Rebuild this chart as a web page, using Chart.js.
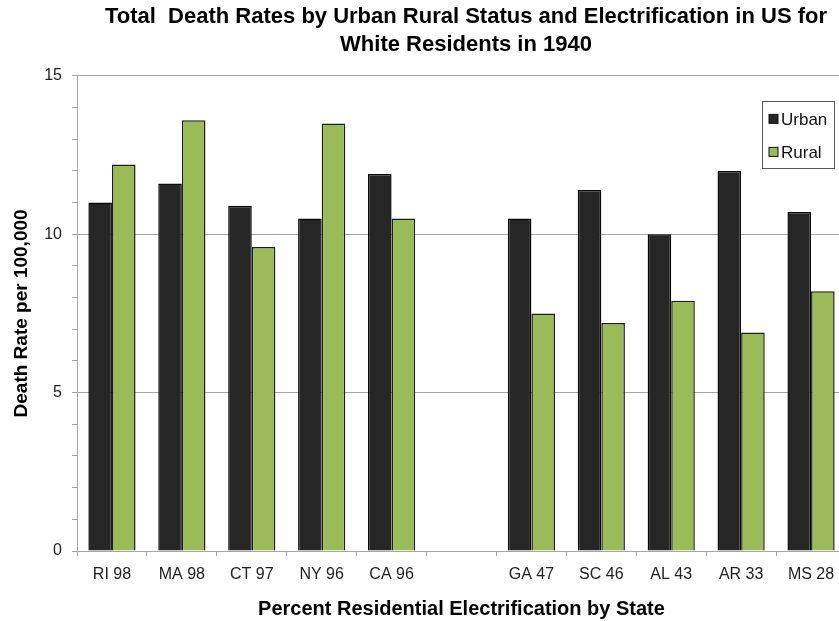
<!DOCTYPE html>
<html>
<head>
<meta charset="utf-8">
<script src="https://cdn.jsdelivr.net/npm/chart.js@4/dist/chart.umd.min.js"></script>
<style>
  html, body { margin: 0; padding: 0; background: #fff; overflow: hidden; width: 839px; height: 621px; }
  #wrap { width: 932px; height: 621px; }
  canvas { display: block; }
</style>
</head>
<body>
<div id="wrap"><canvas id="c" width="932" height="621"></canvas></div>
<script>
const categories = ['RI 98', 'MA 98', 'CT 97', 'NY 96', 'CA 96', '', 'GA 47', 'SC 46', 'AL 43', 'AR 33', 'MS 28'];
const urbanRates = [11.0, 11.6, 10.9, 10.5, 11.9, null, 10.5, 11.4, 10.0, 12.0, 10.7];
const ruralRates = [12.2, 13.6, 9.6, 13.5, 10.5, null, 7.5, 7.2, 7.9, 6.9, 8.2];
const seriesNames = ['Urban', 'Rural'];
const titleLines = ['Total  Death Rates by Urban Rural Status and Electrification in US for', 'White Residents in 1940'];
const xTitle = 'Percent Residential Electrification by State';
const yTitle = 'Death Rate per 100,000';

const FONT = "'Liberation Sans', Arial, Helvetica, sans-serif";
const GRID = '#a6a6a6';

const boxLegend = {
  id: 'boxLegend',
  afterDraw(chart) {
    const ctx = chart.ctx;
    const ca = chart.chartArea;
    const bx = ca.right - 84, by = ca.top + 25, bw = 72, bh = 67;
    ctx.save();
    ctx.fillStyle = '#fff';
    ctx.fillRect(bx, by, bw, bh);
    ctx.strokeStyle = '#595959';
    ctx.lineWidth = 1;
    ctx.strokeRect(Math.round(bx) + 0.5, Math.round(by) + 0.5, bw, bh);
    ctx.font = '17px ' + FONT;
    ctx.textBaseline = 'middle';
    ctx.textAlign = 'left';
    chart.data.datasets.forEach((ds, i) => {
      const cy = by + 18 + i * 33;
      ctx.fillStyle = ds.backgroundColor;
      ctx.fillRect(bx + 7, cy - 4.5, 9, 9);
      ctx.strokeStyle = '#111';
      ctx.strokeRect(bx + 7, cy - 4.5, 9, 9);
      ctx.fillStyle = '#111';
      ctx.fillText(ds.label, bx + 19, cy + 1);
    });
    ctx.restore();
  }
};

new Chart(document.getElementById('c'), {
  type: 'bar',
  data: {
    labels: categories,
    datasets: [
      { label: seriesNames[0], data: urbanRates, backgroundColor: '#262626', borderColor: '#0a0a0a', borderWidth: 1.5 },
      { label: seriesNames[1], data: ruralRates, backgroundColor: '#9bbb59', borderColor: '#1f1f1f', borderWidth: 1.5 }
    ]
  },
  options: {
    responsive: false,
    devicePixelRatio: 1,
    animation: false,
    layout: { padding: 0 },
    datasets: { bar: { categoryPercentage: 0.675, barPercentage: 1.0 } },
    plugins: {
      legend: { display: false },
      tooltip: { enabled: false },
      title: {
        display: true,
        text: titleLines,
        color: '#000',
        font: { family: FONT, size: 22, weight: 'bold', lineHeight: 1.27 },
        padding: { top: 3, bottom: 17 }
      }
    },
    scales: {
      x: {
        grid: { offset: true, drawOnChartArea: false, drawTicks: true, tickLength: 5, tickColor: GRID, color: GRID },
        border: { color: GRID, width: 1 },
        ticks: { color: '#222', font: { family: FONT, size: 16 }, padding: 9, maxRotation: 0, autoSkip: false },
        title: { display: true, text: xTitle, color: '#000', font: { family: FONT, size: 20, weight: 'bold' }, padding: { top: 0, bottom: 0 } },
        afterFit(scale) { scale.height = 70; }
      },
      y: {
        min: 0,
        max: 15,
        grid: {
          drawTicks: true,
          tickLength: 5,
          tickColor: GRID,
          color: (ctx) => (ctx.tick && ctx.tick.value % 5 === 0) ? GRID : 'rgba(0,0,0,0)'
        },
        border: { color: GRID, width: 1 },
        ticks: {
          stepSize: 1,
          autoSkip: false,
          color: '#222',
          padding: 10,
          font: { family: FONT, size: 16 },
          callback: (v) => (v % 5 === 0 ? v : '')
        },
        title: { display: true, text: yTitle, color: '#000', font: { family: FONT, size: 19, weight: 'bold' }, padding: { top: 10, bottom: 0 } },
        afterFit(scale) { scale.width = 77; }
      },
      yRight: {
        type: 'linear',
        position: 'right',
        display: true,
        min: 0,
        max: 15,
        grid: { drawOnChartArea: false, drawTicks: false },
        border: { display: false },
        ticks: { display: false },
        afterFit(scale) { scale.width = 86; }
      }
    }
  },
  plugins: [boxLegend]
});
</script>
</body>
</html>
